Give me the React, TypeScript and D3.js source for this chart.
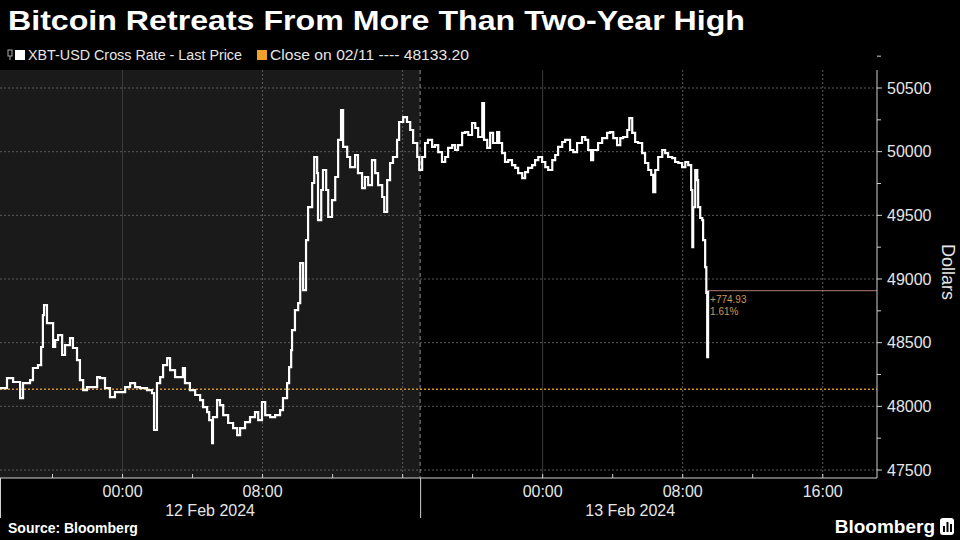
import React from "react";
import * as d3 from "d3";

const TITLE = "Bitcoin Retreats From More Than Two-Year High";
const SERIES_LABEL = "XBT-USD Cross Rate - Last Price";
const CLOSE_LABEL = "Close on 02/11 ---- 48133.20";
const CLOSE_VALUE = 48133.2;
const CHANGE_LABEL = "+774.93";
const CHANGE_PCT = "1.61%";
const Y_TICKS = [47500, 48000, 48500, 49000, 49500, 50000, 50500];
const X_TICK_TIMES = [
  new Date(2024, 1, 12, 0, 0),
  new Date(2024, 1, 12, 8, 0),
  new Date(2024, 1, 13, 0, 0),
  new Date(2024, 1, 13, 8, 0),
  new Date(2024, 1, 13, 16, 0),
];
const DAY_LABELS = ["12 Feb 2024", "13 Feb 2024"];
const DAY_CENTERS = [new Date(2024, 1, 12, 5, 0), new Date(2024, 1, 13, 5, 0)];
const SESSION_STARTS = [new Date(2024, 1, 11, 17, 0), new Date(2024, 1, 12, 17, 0)];
const START = new Date(2024, 1, 11, 17, 0);
const END = new Date(2024, 1, 13, 19, 6);

// minutes since 11 Feb 17:00
const minutes = [
  0, 24, 45, 69, 79, 103, 113, 130, 141, 147, 151, 161, 171, 182, 189, 199, 213, 223, 240, 250,
  264, 274, 285, 298, 315, 333, 343, 360, 377, 394, 411, 429, 446, 463, 480, 504, 521, 528, 538, 549,
  559, 573, 583, 600, 627, 634, 651, 669, 686, 696, 710, 717, 727, 730, 744, 754, 765, 782, 799, 813,
  823, 840, 857, 874, 885, 898, 909, 926, 943, 960, 970, 984, 991, 998, 1001, 1011, 1022, 1029, 1039, 1049,
  1056, 1070, 1077, 1087, 1090, 1101, 1107, 1118, 1125, 1138, 1149, 1159, 1169, 1176, 1190, 1200, 1217, 1227, 1241, 1251,
  1262, 1275, 1286, 1296, 1310, 1317, 1327, 1337, 1347, 1361, 1368, 1382, 1395, 1406, 1416, 1430, 1437, 1447, 1457, 1467,
  1481, 1491, 1502, 1515, 1526, 1536, 1550, 1560, 1570, 1584, 1594, 1605, 1618, 1629, 1639, 1649, 1653, 1659, 1670, 1680,
  1690, 1704, 1711, 1721, 1731, 1742, 1755, 1766, 1776, 1790, 1800, 1810, 1824, 1834, 1845, 1858, 1869, 1879, 1893, 1903,
  1913, 1927, 1937, 1954, 1965, 1978, 1995, 2006, 2016, 2026, 2033, 2050, 2064, 2081, 2091, 2102, 2115, 2126, 2136, 2150,
  2157, 2167, 2177, 2187, 2201, 2211, 2222, 2232, 2239, 2246, 2256, 2270, 2280, 2290, 2304, 2314, 2325, 2338, 2349, 2359,
  2369, 2373, 2376, 2383, 2390, 2393, 2400, 2407, 2410, 2417, 2421, 2424, 2427,
];

const prices = [
  48143, 48222, 48191, 48065, 48183, 48206, 48301, 48324, 48466, 48717, 48795, 48654, 48654, 48466, 48521, 48560, 48403, 48481, 48536, 48458,
  48363, 48206, 48128, 48151, 48151, 48230, 48222, 48143, 48073, 48112, 48112, 48151, 48183, 48151, 48143, 48128, 48104, 47814, 48183, 48230,
  48324, 48379, 48285, 48230, 48301, 48183, 48128, 48089, 48049, 47994, 47955, 47892, 47711, 47916, 48049, 48010, 47931, 47869, 47829, 47774,
  47829, 47876, 47916, 47955, 47892, 48034, 47931, 47916, 47931, 47971, 48065, 48183, 48308, 48442, 48599, 48756, 48811, 49125, 48913, 49306,
  49565, 49754, 49958, 49832, 49463, 49699, 49856, 49699, 49487, 49620, 49801, 50092, 50327, 50037, 49958, 49879, 49974, 49832, 49714, 49801,
  49738, 49934, 49832, 49738, 49644, 49526, 49777, 49911, 49958, 50092, 50233, 50272, 50233, 50170, 50068, 49958, 49856, 49958, 50068, 50092,
  50037, 50052, 49997, 49919, 49958, 50029, 50052, 50013, 50052, 50147, 50154, 50131, 50225, 50186, 50115, 50115, 50382, 50092, 50029, 50147,
  50068, 50154, 50068, 49989, 49919, 49934, 49895, 49872, 49832, 49793, 49840, 49872, 49895, 49934, 49958, 49919, 49879, 49856, 49934, 49974,
  50037, 50076, 50092, 50013, 49997, 50068, 50115, 50092, 50013, 49934, 50013, 50068, 50107, 50147, 50154, 50107, 50052, 50107, 50115, 50170,
  50264, 50147, 50076, 50068, 49989, 49911, 49856, 49817, 49683, 49856, 49958, 50013, 49989, 49958, 49950, 49919, 49911, 49879, 49919, 49895,
  49699, 49251, 49565, 49856, 49777, 49565, 49479, 49463, 49306, 49094, 48890, 48387, 48908.13,
];

const W = 960;
const H = 540;
const PL = 0;
const PR = 877;
const PT = 70;
const PB = 478;

export default function App() {
  const x = d3.scaleTime().domain([START, END]).range([PL, PR]);
  const y = d3.scaleLinear().domain([47500, 50500]).range([470, 88]);

  const data = minutes.map((m, i) => ({ t: new Date(START.getTime() + m * 60000), v: prices[i] }));
  const line = d3
    .line<{ t: Date; v: number }>()
    .x((d) => x(d.t))
    .y((d) => y(d.v))
    .curve(d3.curveStepAfter);

  const last = data[data.length - 1];
  const lastX = x(last.t);
  const lastY = y(last.v);

  const gridTimes = d3.timeHour.every(8)!.range(START, END);
  const smallTicks = d3.timeHour.every(4)!.range(START, END);
  const minorY = d3.range(47500, 50751, 250);

  const font = "'Liberation Sans', Arial, sans-serif";

  return (
    <svg
      width={W}
      height={H}
      style={{ position: "absolute", left: 0, top: 0, background: "#000" }}
      fontFamily={font}
    >
      <rect x={0} y={0} width={W} height={H} fill="#000" />
      {/* shaded previous session */}
      <rect x={x(SESSION_STARTS[0])} y={PT} width={x(SESSION_STARTS[1]) - x(SESSION_STARTS[0])} height={PB - PT} fill="#1a1a1a" />

      {/* horizontal grid */}
      {Y_TICKS.map((v) => (
        <line key={v} x1={PL} x2={PR} y1={y(v)} y2={y(v)} stroke="#5a5a5a" strokeWidth={1} strokeDasharray="2,2" />
      ))}
      {/* vertical grid */}
      {gridTimes.map((t) => {
        const midnight = t.getHours() === 0;
        return (
          <line
            key={t.getTime()}
            x1={x(t)}
            x2={x(t)}
            y1={PT}
            y2={PB}
            stroke={midnight ? "#3c3c3c" : "#5a5a5a"}
            strokeWidth={1}
            strokeDasharray={midnight ? undefined : "2,2"}
          />
        );
      })}
      {/* session divider */}
      <line x1={x(SESSION_STARTS[1])} x2={x(SESSION_STARTS[1])} y1={PT} y2={PB} stroke="#8a8a8a" strokeWidth={1} strokeDasharray="4,3" />

      {/* close line */}
      <line x1={PL} x2={PR} y1={y(CLOSE_VALUE)} y2={y(CLOSE_VALUE)} stroke="#d68f22" strokeWidth={1.5} strokeDasharray="2,2" />

      {/* last price line */}
      <line x1={lastX} x2={PR} y1={lastY} y2={lastY} stroke="#b07a72" strokeWidth={1} />

      {/* price line */}
      <path d={line(data) || ""} fill="none" stroke="#ffffff" strokeWidth={2.2} strokeLinejoin="miter" />

      {/* annotation */}
      <text x={lastX + 2} y={lastY + 12} fill="#c89a5a" fontSize={10}>
        {CHANGE_LABEL}
      </text>
      <text x={lastX + 2} y={lastY + 24} fill="#c89a5a" fontSize={10}>
        {CHANGE_PCT}
      </text>

      {/* right axis */}
      <line x1={PR} x2={PR} y1={PT} y2={PB} stroke="#d0d0d0" strokeWidth={1} />
      {minorY.map((v) => (
        <line key={v} x1={PR} x2={PR + (v % 500 === 0 ? 5 : 4)} y1={y(v)} y2={y(v)} stroke="#d0d0d0" strokeWidth={1} />
      ))}
      {Y_TICKS.map((v) => (
        <text key={v} x={PR + 10} y={y(v) + 5.5} fill="#e6e6e6" fontSize={16}>
          {v}
        </text>
      ))}
      <text transform={`translate(942,272) rotate(90)`} textAnchor="middle" fill="#e6e6e6" fontSize={18}>
        Dollars
      </text>

      {/* bottom axis */}
      <line x1={PL} x2={PR} y1={PB} y2={PB} stroke="#d0d0d0" strokeWidth={1} />
      {smallTicks.map((t) => (
        <line key={t.getTime()} x1={x(t)} x2={x(t)} y1={PB - 4} y2={PB} stroke="#d0d0d0" strokeWidth={1} />
      ))}
      {SESSION_STARTS.map((t) => (
        <line key={t.getTime()} x1={x(t) + 0.5} x2={x(t) + 0.5} y1={PB} y2={PB + 40} stroke="#d0d0d0" strokeWidth={1} />
      ))}
      {X_TICK_TIMES.map((t) => (
        <text key={t.getTime()} x={x(t)} y={PB + 19} textAnchor="middle" fill="#e6e6e6" fontSize={16}>
          {d3.timeFormat("%H:%M")(t)}
        </text>
      ))}
      {DAY_LABELS.map((lbl, i) => (
        <text key={lbl} x={x(DAY_CENTERS[i])} y={PB + 38} textAnchor="middle" fill="#e6e6e6" fontSize={16}>
          {lbl}
        </text>
      ))}

      {/* title */}
      <text x={8} y={30} fill="#ffffff" fontSize={28} fontWeight="bold" textLength={737} lengthAdjust="spacingAndGlyphs">
        {TITLE}
      </text>

      {/* legend */}
      <g>
        <rect x={8} y={50} width={4} height={6} fill="none" stroke="#aaa" strokeWidth={1} />
        <line x1={10} x2={10} y1={56} y2={60} stroke="#aaa" strokeWidth={1} />
        <rect x={15} y={50} width={10} height={10} fill="#ffffff" />
        <text x={28} y={60} fill="#e6e6e6" fontSize={14} textLength={214} lengthAdjust="spacingAndGlyphs">
          {SERIES_LABEL}
        </text>
        <rect x={257} y={50} width={10} height={10} fill="#f0a02a" />
        <text x={270} y={60} fill="#e6e6e6" fontSize={14} textLength={199} lengthAdjust="spacingAndGlyphs">
          {CLOSE_LABEL}
        </text>
      </g>

      {/* footer */}
      <text x={8} y={533} fill="#ffffff" fontSize={14} fontWeight="bold">
        Source: Bloomberg
      </text>
      <text x={935} y={533} textAnchor="end" fill="#ffffff" fontSize={19} fontWeight="bold">
        Bloomberg
      </text>
      <rect x={940} y={518} width={14} height={17} rx={3} fill="#ffffff" />
      <rect x={943} y={526} width={2} height={6} fill="#000" />
      <rect x={946.5} y={522} width={2} height={10} fill="#000" />
      <rect x={950} y={524} width={2} height={8} fill="#000" />
    </svg>
  );
}
